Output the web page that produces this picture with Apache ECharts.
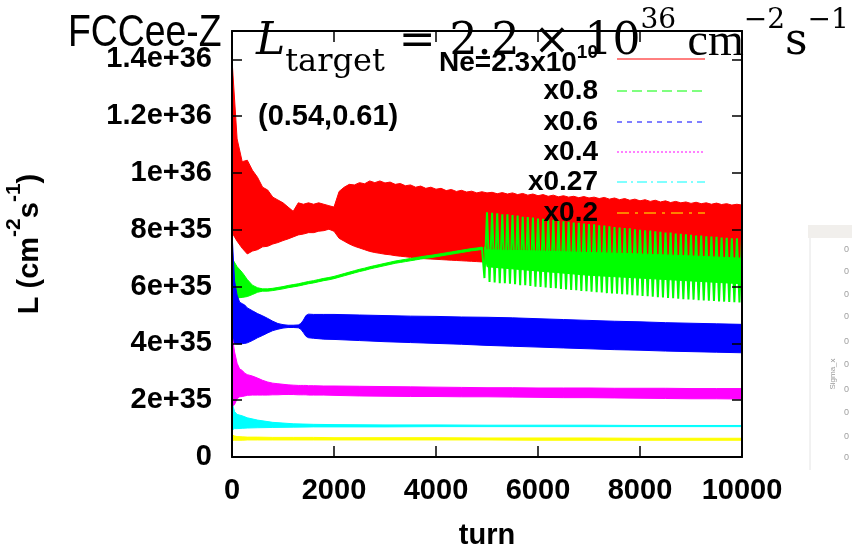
<!DOCTYPE html>
<html><head><meta charset="utf-8">
<script src="https://cdn.jsdelivr.net/npm/echarts@6/dist/echarts.min.js"></script>
<style>html,body{margin:0;padding:0;background:#fff}#c{width:852px;height:546px}</style>
</head><body><div id="c"></div>
<script>
// ---------------- DATA (luminosity in units of 1e35 cm^-2 s^-1) ----------------
const UNIT = 1e35;
const turnsA = [0,100,200,300,400,500,600,700,800,900,1000,1100,1200,1300,1400,1500,1600,1700,1800,1900,
  2000,2100,2200,2300,2400,2500,2600,2700,2800,2900,3000,3100,3200,3300,3400,3500,3600,3700,3800,3900,
  4000,4100,4200,4300,4400,4500,4600,4700,4800,4900,5000,5100,5200,5300,5400,5500,5600,5700,5800,5900,
  6000,6100,6200,6300,6400,6500,6600,6700,6800,6900,7000,7100,7200,7300,7400,7500,7600,7700,7800,7900,
  8000,8100,8200,8300,8400,8500,8600,8700,8800,8900,9000,9100,9200,9300,9400,9500,9600,9700,9800,9900,10000];

// Ne = 2.3e10 (red): upper / lower envelope of the oscillation band
const redHi = [14.0,11.2,10.4,10.45,10.1,9.85,9.5,9.4,9.15,9.05,
  8.95,8.8,8.65,8.95,8.9,8.95,8.9,8.95,8.9,8.85,
  8.8,9.35,9.5,9.6,9.58,9.66,9.62,9.72,9.66,9.72,
  9.65,9.68,9.6,9.63,9.55,9.58,9.5,9.54,9.46,9.5,
  9.43,9.46,9.38,9.42,9.35,9.39,9.33,9.36,9.3,9.34,
  9.3,9.32,9.27,9.31,9.26,9.3,9.24,9.28,9.22,9.26,
  9.2,9.24,9.18,9.22,9.16,9.2,9.15,9.18,9.13,9.17,
  9.12,9.15,9.1,9.14,9.08,9.12,9.06,9.1,9.04,9.08,
  9.02,9.06,9.0,9.04,8.98,9.02,8.96,9.0,8.95,8.98,
  8.93,8.97,8.92,8.95,8.9,8.94,8.89,8.92,8.87,8.9,8.87];
const redLo = [7.9,7.6,7.35,7.15,7.25,7.3,7.4,7.42,7.5,7.55,
  7.62,7.68,7.75,7.82,7.85,7.9,7.9,7.95,7.97,8.02,
  7.95,7.7,7.6,7.5,7.42,7.36,7.3,7.24,7.2,7.17,
  7.14,7.12,7.09,7.07,7.05,7.03,7.01,6.99,6.98,6.97,
  6.96,6.95,6.94,6.93,6.92,6.91,6.9,6.89,6.88,6.87,
  6.86,6.86,6.85,6.85,6.84,6.84,6.83,6.83,6.82,6.82,
  6.81,6.81,6.8,6.8,6.79,6.79,6.78,6.78,6.77,6.77,
  6.76,6.76,6.75,6.75,6.74,6.74,6.73,6.73,6.72,6.72,
  6.71,6.71,6.7,6.7,6.69,6.69,6.68,6.68,6.67,6.67,
  6.66,6.66,6.65,6.65,6.64,6.64,6.63,6.63,6.62,6.62,6.62];

// x0.8 (green): thin line up to turn 4900 (uses turnsA[0..49])
const greenHi = [7.0,6.7,6.5,6.25,6.05,5.96,5.92,5.92,5.94,5.97,
  6.0,6.04,6.07,6.1,6.14,6.18,6.21,6.25,6.29,6.32,
  6.36,6.41,6.46,6.51,6.56,6.61,6.65,6.7,6.74,6.78,
  6.82,6.86,6.9,6.93,6.96,6.99,7.02,7.05,7.08,7.1,
  7.13,7.16,7.19,7.22,7.25,7.28,7.31,7.34,7.36,7.39];
const greenLo = [5.6,5.6,5.62,5.65,5.72,5.8,5.84,5.84,5.86,5.89,
  5.92,5.96,5.99,6.02,6.06,6.1,6.13,6.17,6.21,6.24,
  6.28,6.33,6.38,6.43,6.48,6.53,6.57,6.62,6.66,6.7,
  6.74,6.78,6.82,6.85,6.88,6.91,6.94,6.97,7.0,7.02,
  7.05,7.08,7.11,7.14,7.17,7.2,7.23,7.26,7.28,7.31];
// x0.8 (green) after the instability: solid core of the band
const greenCoreTurns = [4950,5000,6000,7000,8000,9000,10000];
const greenCoreHi = [7.4,7.3,7.25,7.2,7.15,7.08,7.0];
const greenCoreLo = [7.3,6.7,6.55,6.4,6.3,6.2,6.1];
// x0.8 (green) after the instability: oscillation peaks and troughs
const greenPeakTurns = [5000,5100,5200,5300,5400,5500,5600,5700,5800,5900,6000,6100,6200,6300,6400,6500,6600,6700,6800,6900,
  7000,7100,7200,7300,7400,7500,7600,7700,7800,7900,8000,8100,8200,8300,8400,8500,8600,8700,8800,8900,
  9000,9100,9200,9300,9400,9500,9600,9700,9800,9900,10000];
const greenPeaks = [8.62,8.6,8.58,8.55,8.55,8.52,8.5,8.46,8.45,8.43,
  8.4,8.39,8.36,8.35,8.32,8.3,8.28,8.26,8.25,8.22,
  8.2,8.19,8.16,8.15,8.12,8.1,8.08,8.06,8.05,8.02,
  8.0,7.98,7.97,7.95,7.93,7.9,7.9,7.87,7.86,7.84,
  7.82,7.8,7.8,7.77,7.76,7.75,7.73,7.72,7.7,7.7,7.68];
const greenTroughTurns = [4950,5050,5150,5250,5350,5450,5550,5650,5750,5850,5950,6050,6150,6250,6350,6450,6550,6650,6750,6850,
  6950,7050,7150,7250,7350,7450,7550,7650,7750,7850,7950,8050,8150,8250,8350,8450,8550,8650,8750,8850,
  8950,9050,9150,9250,9350,9450,9550,9650,9750,9850,9950];
const greenTroughs = [6.3,6.16,6.15,6.12,6.12,6.1,6.08,6.05,6.05,6.02,
  6.0,5.99,5.97,5.95,5.94,5.92,5.9,5.88,5.87,5.85,
  5.84,5.82,5.8,5.79,5.77,5.76,5.75,5.73,5.72,5.7,
  5.69,5.67,5.66,5.64,5.63,5.62,5.6,5.59,5.57,5.56,
  5.55,5.54,5.52,5.51,5.5,5.49,5.48,5.47,5.46,5.45,5.44];

// x0.6 (blue) and x0.4 (magenta)
const turnsB = [0,50,100,150,200,250,300,400,500,600,700,800,900,1000,1100,1200,1300,1350,1400,1450,1500,1600,1800,2000,
  2500,3000,3500,4000,4500,5000,5500,6000,6500,7000,7500,8000,8500,9000,9500,10000];
const blueHi = [7.9,6.2,5.7,5.45,5.4,5.35,5.25,5.15,5.05,4.97,4.88,4.78,4.7,4.66,4.64,4.64,4.65,4.7,4.82,4.98,5.03,5.02,5.02,5.02,
  5.0,4.98,4.96,4.95,4.93,4.92,4.9,4.87,4.84,4.81,4.78,4.76,4.73,4.71,4.69,4.67];
const blueLo = [4.1,4.0,3.98,3.98,3.99,4.0,4.02,4.1,4.2,4.28,4.37,4.45,4.5,4.54,4.56,4.56,4.55,4.5,4.38,4.25,4.2,4.18,4.15,4.14,
  4.1,4.06,4.03,4.0,3.97,3.93,3.9,3.87,3.84,3.81,3.78,3.76,3.73,3.71,3.69,3.67];
const magHi = [4.3,3.7,3.3,3.1,3.05,2.95,2.9,2.85,2.78,2.7,2.64,2.6,2.58,2.56,2.54,2.53,2.52,2.52,2.52,2.52,2.51,2.51,2.5,2.5,
  2.49,2.48,2.47,2.46,2.45,2.44,2.44,2.43,2.43,2.43,2.42,2.42,2.42,2.41,2.41,2.41];
const magLo = [1.75,1.85,2.05,2.12,2.13,2.15,2.17,2.18,2.18,2.18,2.18,2.19,2.19,2.2,2.2,2.2,2.19,2.19,2.19,2.19,2.18,2.18,2.18,2.17,
  2.15,2.14,2.13,2.13,2.12,2.12,2.11,2.1,2.09,2.09,2.08,2.07,2.06,2.05,2.05,2.04];

// x0.27 (cyan) and x0.2 (yellow)
const turnsC = [0,50,100,200,300,500,800,1200,1600,2000,3000,4000,5000,6000,7000,8000,9000,10000];
const cyanHi = [1.9,1.6,1.5,1.45,1.38,1.3,1.22,1.17,1.15,1.14,1.13,1.13,1.12,1.12,1.12,1.11,1.11,1.11];
const cyanLo = [0.95,1.0,1.0,1.01,1.02,1.03,1.04,1.05,1.06,1.06,1.06,1.07,1.07,1.07,1.07,1.07,1.07,1.07];
const yelHi = [0.78,0.74,0.72,0.71,0.7,0.7,0.69,0.69,0.69,0.68,0.68,0.68,0.67,0.67,0.67,0.66,0.66,0.66];
const yelLo = [0.58,0.59,0.59,0.59,0.6,0.6,0.6,0.6,0.6,0.6,0.6,0.6,0.6,0.59,0.59,0.59,0.59,0.59];

// axes / legend text
const xTicks = [0,2000,4000,6000,8000,10000];
const yTickLabels = ['0','2e+35','4e+35','6e+35','8e+35','1e+36','1.2e+36','1.4e+36'];
const legendLabels = ['x0.8','x0.6','x0.4','x0.27','x0.2'];
const seriesColors = ['#ff0000','#00ff00','#0000ff','#ff00ff','#00ffff','#ffff00'];

// ---------------- CHART ----------------
const FONT = "'Liberation Sans', Arial, sans-serif";
const chart = echarts.init(document.getElementById('c'), null, {renderer: 'canvas'});

function band(name, color, t, hi, lo) {
  return {
    type: 'custom', name: name, coordinateSystem: 'cartesian2d', clip: true, silent: true,
    data: [[t[0], lo[0] * UNIT]],
    renderItem: function (params, api) {
      const pts = [];
      for (let i = 0; i < hi.length; i++) pts.push(api.coord([t[i], hi[i] * UNIT]));
      for (let i = lo.length - 1; i >= 0; i--) pts.push(api.coord([t[i], lo[i] * UNIT]));
      return {type: 'polygon', shape: {points: pts}, style: {fill: color, stroke: color, lineWidth: 1}};
    }
  };
}

const greenOsc = [[turnsA[greenHi.length - 1], greenHi[greenHi.length - 1] * UNIT]];
for (let k = 0; k < greenPeaks.length; k++) {
  greenOsc.push([greenTroughTurns[k], greenTroughs[k] * UNIT]);
  greenOsc.push([greenPeakTurns[k], greenPeaks[k] * UNIT]);
}

const axisCommon = {
  axisLine: {show: true, onZero: false, lineStyle: {color: '#000', width: 2}},
  splitLine: {show: false},
  z: 10
};

const tickLabelStyle = {color: '#000', fontFamily: FONT, fontWeight: 'bold', fontSize: 29};

const legendGraphics = [];
const legendY = [91, 122, 152, 182, 213];
const legendDash = [[10, 5], [5, 5], [2, 2], [10, 4, 2, 4], [12, 6, 3, 6]];
legendGraphics.push({type: 'text', x: 598, y: 63, style: {
  text: '{b|Ne=2.3x10}{s|10}', align: 'right', verticalAlign: 'middle',
  rich: {b: {fontFamily: FONT, fontWeight: 'bold', fontSize: 28, lineHeight: 40, verticalAlign: 'middle', fill: '#000'},
         s: {fontFamily: FONT, fontWeight: 'bold', fontSize: 19, lineHeight: 18, verticalAlign: 'top', fill: '#000'}}}});
legendGraphics.push({type: 'line', shape: {x1: 617, y1: 59, x2: 705, y2: 59}, style: {stroke: seriesColors[0], lineWidth: 1}});
legendLabels.forEach(function (lab, i) {
  legendGraphics.push({type: 'text', x: 598, y: legendY[i], style: {text: lab, align: 'right', verticalAlign: 'middle',
    font: 'bold 28px ' + FONT, fill: '#000'}});
  legendGraphics.push({type: 'line', shape: {x1: 617, y1: legendY[i], x2: 705, y2: legendY[i]},
    style: {stroke: seriesColors[i + 1], lineWidth: 1, lineDash: legendDash[i]}});
});

const sideZeros = [250, 272, 295, 317, 342, 365, 390, 413, 437, 458];
const sideGraphics = [
  {type: 'rect', shape: {x: 808, y: 225, width: 44, height: 13}, style: {fill: '#f1efec'}},
  {type: 'line', shape: {x1: 810, y1: 238, x2: 810, y2: 470}, style: {stroke: '#e4e4e4', lineWidth: 1}},
  {type: 'text', x: 833, y: 374, rotation: Math.PI / 2, style: {text: 'Sigma_x', font: '8px ' + FONT, fill: '#9a9a9a', align: 'center', verticalAlign: 'middle'}}
];
sideZeros.forEach(function (y) {
  sideGraphics.push({type: 'text', x: 844, y: y, style: {text: '0', font: '9px ' + FONT, fill: '#a0a0a0', verticalAlign: 'middle'}});
});

const titleGraphics = [
  {type: 'text', x: 258, y: 117, style: {text: '(0.54,0.61)', font: 'bold 29px ' + FONT, fill: '#000', verticalAlign: 'middle'}},
  {type: 'text', x: 68, y: 34, scaleX: 0.83, originX: 0, originY: 0, style: {text: 'FCCee-Z', font: '45px ' + FONT, fill: '#000', verticalAlign: 'middle'}},
  {type: 'text', x: 256, y: 43, style: {
    text: '{i|L}{sub|target}{n| = 2.2 × 10}{sup|36}{c| cm}{sup|−2}{n|s}{sup|−1}',
    verticalAlign: 'middle',
    rich: {
      i: {fontFamily: "'DejaVu Serif', serif", fontStyle: 'italic', fontSize: 44, lineHeight: 72, verticalAlign: 'middle', fill: '#000'},
      n: {fontFamily: "'DejaVu Serif', serif", fontSize: 44, lineHeight: 72, verticalAlign: 'middle', fill: '#000'},
      c: {fontFamily: "'Liberation Serif', serif", fontSize: 46, lineHeight: 72, verticalAlign: 'middle', fill: '#000'},
      sub: {fontFamily: "'DejaVu Serif', serif", fontSize: 32, lineHeight: 52, verticalAlign: 'bottom', fill: '#000'},
      sup: {fontFamily: "'DejaVu Serif', serif", fontSize: 28, lineHeight: 38, verticalAlign: 'top', fill: '#000'}
    }}}
];

const allGraphics = [].concat(legendGraphics, sideGraphics, titleGraphics).map(function (g) { g.z = 100; return g; });

const option = {
  animation: false,
  backgroundColor: '#fff',
  grid: {left: 232, right: 110, top: 31, bottom: 89, containLabel: false, outerBoundsMode: 'none'},
  xAxis: [
    Object.assign({type: 'value', position: 'bottom', min: 0, max: 10000, interval: 2000,
      axisTick: {show: true, inside: true, length: 11, lineStyle: {color: '#000', width: 1.5}},
      axisLabel: Object.assign({margin: 19, formatter: function (v) { return String(xTicks[Math.round(v / 2000)]); }}, tickLabelStyle),
      name: 'turn', nameLocation: 'middle', nameGap: 64,
      nameTextStyle: {color: '#000', fontFamily: FONT, fontWeight: 'bold', fontSize: 29}}, axisCommon),
    Object.assign({type: 'value', position: 'top', min: 0, max: 10000, interval: 2000,
      axisTick: {show: true, inside: true, length: 11, lineStyle: {color: '#000', width: 1.5}},
      axisLabel: {show: false}}, axisCommon)
  ],
  yAxis: [
    Object.assign({type: 'value', position: 'left', min: 0, max: 15 * UNIT, interval: 2 * UNIT,
      axisTick: {show: true, inside: true, length: 10, lineStyle: {color: '#000', width: 1.5}},
      axisLabel: Object.assign({margin: 20, showMaxLabel: false,
        formatter: function (v) { const i = Math.round(v / (2 * UNIT)); return yTickLabels[i] || ''; }}, tickLabelStyle),
      name: '{b|L (cm}{s|-2}{b|s}{s|-1}{b|)}', nameLocation: 'middle', nameRotate: 90, nameGap: 176,
      nameTextStyle: {rich: {
        b: {fontFamily: FONT, fontWeight: 'bold', fontSize: 29, lineHeight: 52, verticalAlign: 'middle', color: '#000'},
        s: {fontFamily: FONT, fontWeight: 'bold', fontSize: 21, lineHeight: 20, verticalAlign: 'top', color: '#000'}}}}, axisCommon),
    Object.assign({type: 'value', position: 'right', min: 0, max: 15 * UNIT, interval: 2 * UNIT,
      axisTick: {show: true, inside: true, length: 10, lineStyle: {color: '#000', width: 1.5}},
      axisLabel: {show: false}}, axisCommon)
  ],
  series: [
    band('Ne=2.3x10^10', seriesColors[0], turnsA, redHi, redLo),
    band('x0.8', seriesColors[1], turnsA, greenHi, greenLo),
    band('x0.8 core', seriesColors[1], greenCoreTurns, greenCoreHi, greenCoreLo),
    {type: 'line', name: 'x0.8 osc', data: greenOsc, showSymbol: false, symbol: 'none', clip: true, silent: true,
      lineStyle: {color: seriesColors[1], width: 2}},
    band('x0.6', seriesColors[2], turnsB, blueHi, blueLo),
    band('x0.4', seriesColors[3], turnsB, magHi, magLo),
    band('x0.27', seriesColors[4], turnsC, cyanHi, cyanLo),
    band('x0.2', seriesColors[5], turnsC, yelHi, yelLo)
  ],
  graphic: allGraphics
};
chart.setOption(option);
</script>
</body></html>
